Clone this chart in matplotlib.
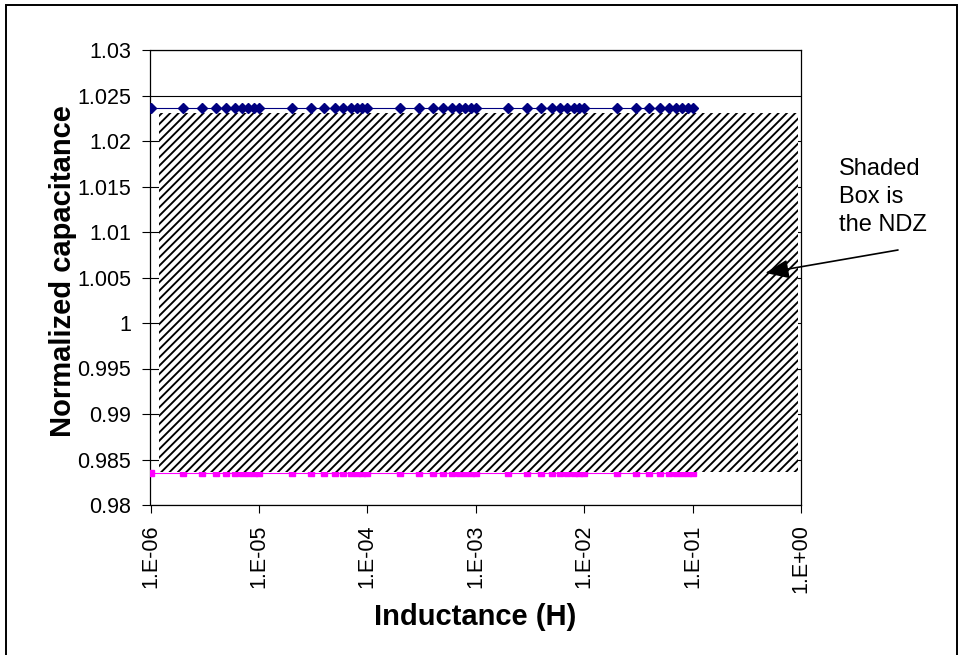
import matplotlib
matplotlib.use("Agg")
import matplotlib.pyplot as plt
from matplotlib.patches import Rectangle

plt.rcParams['font.family'] = ['Liberation Sans', 'DejaVu Sans']
plt.rcParams['hatch.linewidth'] = 1.35

# ---- data ----
inductance = [1e-6, 2e-6, 3e-6, 4e-6, 5e-6, 6e-6, 7e-6, 8e-6, 9e-6,
              1e-5, 2e-5, 3e-5, 4e-5, 5e-5, 6e-5, 7e-5, 8e-5, 9e-5,
              1e-4, 2e-4, 3e-4, 4e-4, 5e-4, 6e-4, 7e-4, 8e-4, 9e-4,
              1e-3, 2e-3, 3e-3, 4e-3, 5e-3, 6e-3, 7e-3, 8e-3, 9e-3,
              1e-2, 2e-2, 3e-2, 4e-2, 5e-2, 6e-2, 7e-2, 8e-2, 9e-2,
              1e-1]
upper_cap = [1.02366, 1.02366, 1.02366, 1.02366, 1.02366, 1.02366, 1.02366, 1.02366, 1.02366,
             1.02366, 1.02366, 1.02366, 1.02366, 1.02366, 1.02366, 1.02366, 1.02366, 1.02366,
             1.02366, 1.02366, 1.02366, 1.02366, 1.02366, 1.02366, 1.02366, 1.02366, 1.02366,
             1.02366, 1.02366, 1.02366, 1.02366, 1.02366, 1.02366, 1.02366, 1.02366, 1.02366,
             1.02366, 1.02366, 1.02366, 1.02366, 1.02366, 1.02366, 1.02366, 1.02366, 1.02366,
             1.02366]
lower_cap = [0.98348, 0.98348, 0.98348, 0.98348, 0.98348, 0.98348, 0.98348, 0.98348, 0.98348,
             0.98348, 0.98348, 0.98348, 0.98348, 0.98348, 0.98348, 0.98348, 0.98348, 0.98348,
             0.98348, 0.98348, 0.98348, 0.98348, 0.98348, 0.98348, 0.98348, 0.98348, 0.98348,
             0.98348, 0.98348, 0.98348, 0.98348, 0.98348, 0.98348, 0.98348, 0.98348, 0.98348,
             0.98348, 0.98348, 0.98348, 0.98348, 0.98348, 0.98348, 0.98348, 0.98348, 0.98348,
             0.98348]
ndz_x = [1.2e-6, 0.94]
ndz_low = 0.98359
ndz_high = 1.02308

x_ticks = [1e-6, 1e-5, 1e-4, 1e-3, 1e-2, 1e-1, 1e0]
x_ticklabels = ['1.E-06', '1.E-05', '1.E-04', '1.E-03', '1.E-02', '1.E-01', '1.E+00']
y_ticks = [0.98, 0.985, 0.99, 0.995, 1.0, 1.005, 1.01, 1.015, 1.02, 1.025, 1.03]
y_ticklabels = ['0.98', '0.985', '0.99', '0.995', '1', '1.005', '1.01', '1.015', '1.02', '1.025', '1.03']

arrow_tip = (0.469, 1.0055)

# ---- figure ----
W, H = 962, 655
fig = plt.figure(figsize=(W / 100, H / 100), dpi=100)
ax = fig.add_axes([150.5 / W, 1 - 505 / H, (801 - 150.5) / W, (505 - 50) / H])

ax.set_xscale('log')
ax.set_xlim(1e-6, 1e0)
ax.set_ylim(0.98, 1.03)

ax.set_yticks(y_ticks)
ax.set_yticklabels(y_ticklabels)
ax.set_xticks(x_ticks)
ax.set_xticklabels(x_ticklabels, rotation=90)
ax.xaxis.set_minor_locator(matplotlib.ticker.NullLocator())

ax.tick_params(axis='both', direction='out', length=5.5, width=0.8, color='black',
               labelsize=15.5, pad=8.5)
ax.yaxis.grid(True, color='black', linewidth=0.8)
ax.set_axisbelow(True)
for s in ax.spines.values():
    s.set_linewidth(0.9)
    s.set_color('black')

# series
ax.plot(inductance, lower_cap, color='#FF00FF', marker='s', markersize=5,
        linewidth=0.8, zorder=3)
ax.fill_between(ndz_x, [ndz_low, ndz_low], [ndz_high, ndz_high], facecolor='white',
                edgecolor='black', hatch='////', linewidth=0, zorder=4)
ax.plot(inductance, upper_cap, color='#000080', marker='D', markersize=5,
        linewidth=0.8, zorder=5)

# labels
fig.text(475.5 / W, 1 - 617 / H, 'Inductance (H)', ha='center', va='center',
         fontsize=21, fontweight='bold')
fig.text(63 / W, 1 - 271 / H, 'Normalized capacitance', ha='center', va='center',
         rotation=90, fontsize=21, fontweight='bold')

# annotation
fig.text(839 / W, 1 - 158 / H, 'Shaded\nBox is\nthe NDZ', ha='left', va='top',
         fontsize=17, linespacing=1.35)
ax.annotate('', xy=arrow_tip, xycoords='data',
            xytext=(898 / W, 1 - 250 / H), textcoords='figure fraction',
            arrowprops=dict(arrowstyle='-|>,head_length=0.72,head_width=0.29',
                            mutation_scale=20, color='black', lw=1.2,
                            shrinkA=0, shrinkB=0),
            zorder=10, annotation_clip=False)

# outer frame
fig.patches.append(Rectangle((6 / W, -0.05), (957 - 6) / W, 1.05 - 5 / H,
                             transform=fig.transFigure, fill=False,
                             edgecolor='black', linewidth=1.4))

fig.savefig('out.png', dpi=100)
